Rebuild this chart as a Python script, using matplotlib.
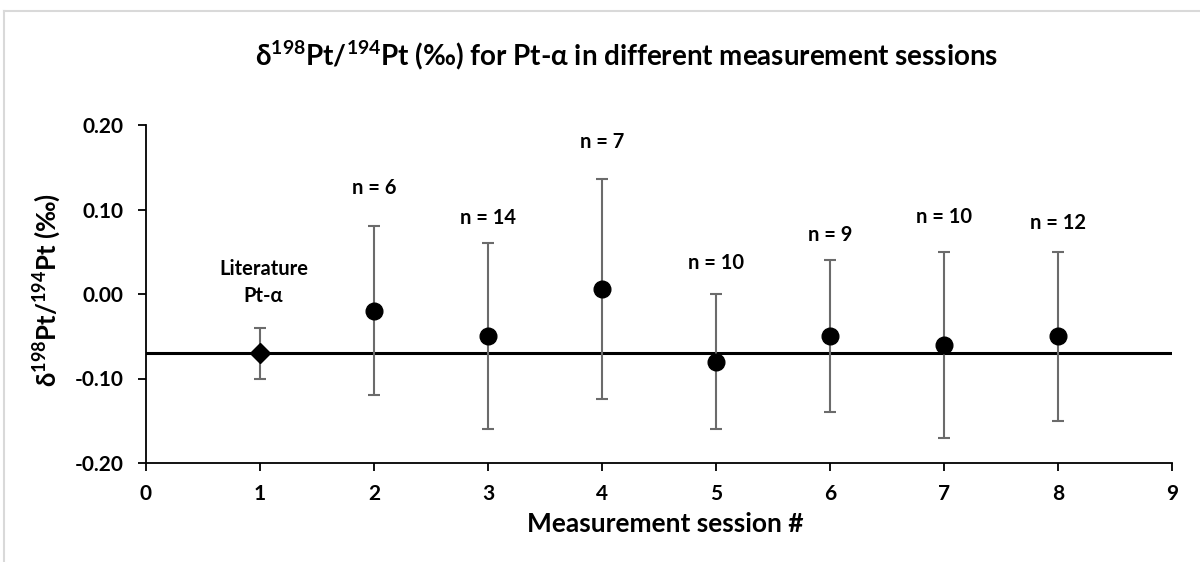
import matplotlib
matplotlib.use("Agg")
import matplotlib.pyplot as plt
from matplotlib.lines import Line2D

plt.rcParams['font.family'] = ['Lato', 'DejaVu Sans']
plt.rcParams['font.weight'] = 'bold'
plt.rcParams['mathtext.fontset'] = 'custom'
plt.rcParams['mathtext.rm'] = 'Lato:bold'
plt.rcParams['mathtext.it'] = 'Lato:bold'
plt.rcParams['mathtext.bf'] = 'Lato:bold'

# Data
lit_session = [1]
lit_value = [-0.07]
lit_err = [0.03]

sessions = [2, 3, 4, 5, 6, 7, 8]
values = [-0.02, -0.05, 0.006, -0.08, -0.05, -0.06, -0.05]
errors = [0.10, 0.11, 0.13, 0.08, 0.09, 0.11, 0.10]
n_labels = ["n = 6", "n = 14", "n = 7", "n = 10", "n = 9", "n = 10", "n = 12"]
reference_value = -0.07

xticks = list(range(0, 10))
yticks = [-0.20, -0.10, 0.00, 0.10, 0.20]

fig = plt.figure(figsize=(12, 5.62), dpi=100)
ax = fig.add_axes([146/1200, 1-463/562, (1172-146)/1200, (463-125)/562])

ax.axhline(reference_value, color='black', lw=2.2, zorder=1)

ax.errorbar(lit_session, lit_value, yerr=lit_err, fmt='D', color='black',
            ecolor='#6b6b6b', elinewidth=1.5, capsize=4, capthick=1.5,
            markersize=10, zorder=3)
ax.errorbar(sessions, values, yerr=errors, fmt='o', color='black',
            ecolor='#6b6b6b', elinewidth=1.5, capsize=4, capthick=1.5,
            markersize=12, zorder=3)

# label offsets above error bar tops (annotation placement)
label_offsets = [0.045, 0.03, 0.044, 0.037, 0.03, 0.041, 0.034]
for s, v, e, lab, off in zip(sessions, values, errors, n_labels, label_offsets):
    ax.text(s, v + e + off, lab, ha='center', va='center', fontsize=14.5,
            fontweight='bold')

ax.text(lit_session[0] + 0.03, lit_value[0] + lit_err[0] + 0.054,
        "Literature\nPt-α", ha='center', va='center', fontsize=14.5,
        fontweight='bold', linespacing=1.45,
        family=['Lato', 'DejaVu Sans'])

ax.set_xlim(0, 9)
ax.set_ylim(-0.20, 0.20)
ax.set_xticks(xticks)
ax.set_yticks(yticks)
ax.set_yticklabels([f"{t:.2f}" for t in yticks])
ax.tick_params(axis='both', direction='out', length=6, width=1.3,
               labelsize=15, colors='black')
ax.tick_params(axis='y', pad=10)
ax.tick_params(axis='x', pad=9)
for lab in ax.get_xticklabels() + ax.get_yticklabels():
    lab.set_fontweight('bold')
ax.spines['top'].set_visible(False)
ax.spines['right'].set_visible(False)
ax.spines['left'].set_linewidth(1.3)
ax.spines['bottom'].set_linewidth(1.3)

ax.set_xlabel("Measurement session #", fontsize=19, fontweight='bold')
ax.xaxis.set_label_coords(665/1200, 1-524/562, transform=fig.transFigure)
ax.xaxis.label.set_verticalalignment('center')
ax.set_ylabel("δ$^{198}$Pt/$^{194}$Pt (‰)", fontsize=18.5, fontweight='bold')
ax.yaxis.set_label_coords(47/1200, 1-290/562, transform=fig.transFigure)
ax.yaxis.label.set_verticalalignment('center')

fig.text(627/1200, 1-55/562, "δ$^{198}$Pt/$^{194}$Pt (‰) for Pt-α in different measurement sessions",
         ha='center', va='center', fontsize=20, fontweight='bold')

# chart frame (light gray)
fig.add_artist(Line2D([4/1200, 4/1200], [0, 1-11/562], transform=fig.transFigure,
                      color='#d9d9d9', lw=1.5))
fig.add_artist(Line2D([4/1200, 1], [1-11/562, 1-11/562], transform=fig.transFigure,
                      color='#d9d9d9', lw=1.5))

fig.savefig("out.png", dpi=100)
